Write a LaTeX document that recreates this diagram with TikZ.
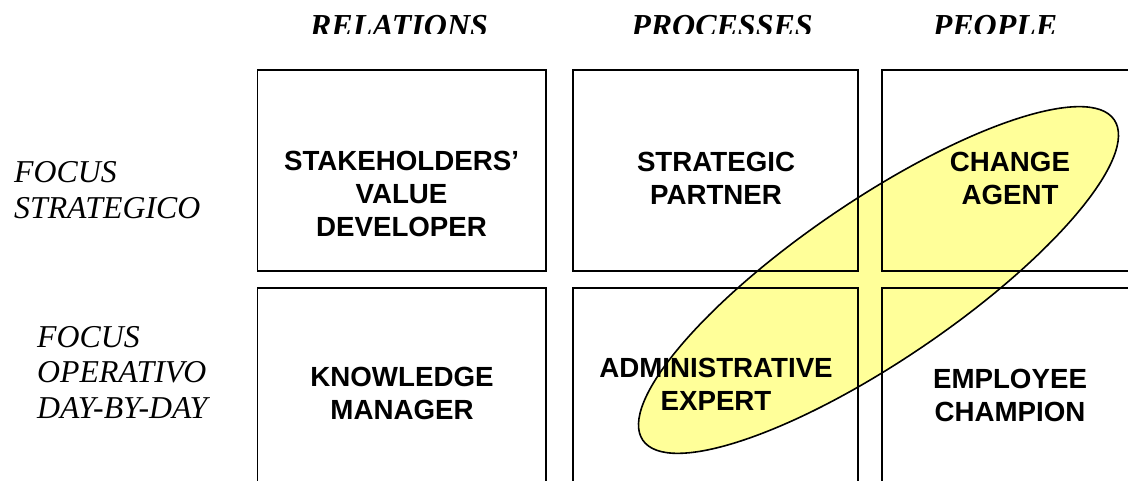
\documentclass[tikz,border=0pt]{standalone}
\usepackage{fontspec}
\setmainfont{Liberation Serif}
\setsansfont{Liberation Sans}
\definecolor{hlyellow}{RGB}{255,255,153}
\begin{document}
\begin{tikzpicture}[x=1pt,y=1pt,
  cell/.style={draw=black, line width=1.7pt},
  role/.style={font=\sffamily\bfseries\fontsize{27.7}{33}\selectfont, align=center, inner sep=0pt},
  axis/.style={font=\bfseries\itshape\fontsize{32}{38}\selectfont, inner sep=0pt, anchor=base},
  focus/.style={font=\itshape\fontsize{31.8}{35.5}\selectfont, align=left, inner sep=0pt, anchor=west},
  highlight/.style={fill=hlyellow, draw=black, line width=1.6pt}]
\useasboundingbox (0,0) rectangle (1128,481);
\clip (0,0) rectangle (1128,481);

% highlighted diagonal band
\draw[highlight] (878.5,201) ellipse [x radius=285, y radius=80, rotate=34.2];

% grid cells
\draw[cell] (257.5,411) rectangle (546,210);
\draw[cell] (573,411) rectangle (858,210);
\draw[cell] (882,411) rectangle (1140,210);
\draw[cell] (257.5,193) rectangle (546,-10);
\draw[cell] (573,193) rectangle (858,-10);
\draw[cell] (882,193) rectangle (1140,-10);

% column headings
\begin{scope}
  \clip (0,447) rectangle (1128,481);
  \node[axis] (relations) at (399,444.5) {RELATIONS};
  \node[axis] (processes) at (722,444.5) {PROCESSES};
  \node[axis] (people)    at (995,444.5) {PEOPLE};
\end{scope}

% row headings
\node[focus] (strategico) at (14,291) {FOCUS\\STRATEGICO};
\node[focus] (operativo)  at (37,108.5) {FOCUS\\OPERATIVO\\DAY-BY-DAY};

% roles
\node[role] (svd) at (401.5,287) {STAKEHOLDERS’\\VALUE\\DEVELOPER};
\node[role] (sp)  at (716,303) {STRATEGIC\\PARTNER};
\node[role] (ca)  at (1010,303) {CHANGE\\AGENT};
\node[role] (km)  at (402,87.5) {KNOWLEDGE\\MANAGER};
\node[role] (ae)  at (716,96.5) {ADMINISTRATIVE\\EXPERT};
\node[role] (ec)  at (1010,85.5) {EMPLOYEE\\CHAMPION};
\end{tikzpicture}
\end{document}
